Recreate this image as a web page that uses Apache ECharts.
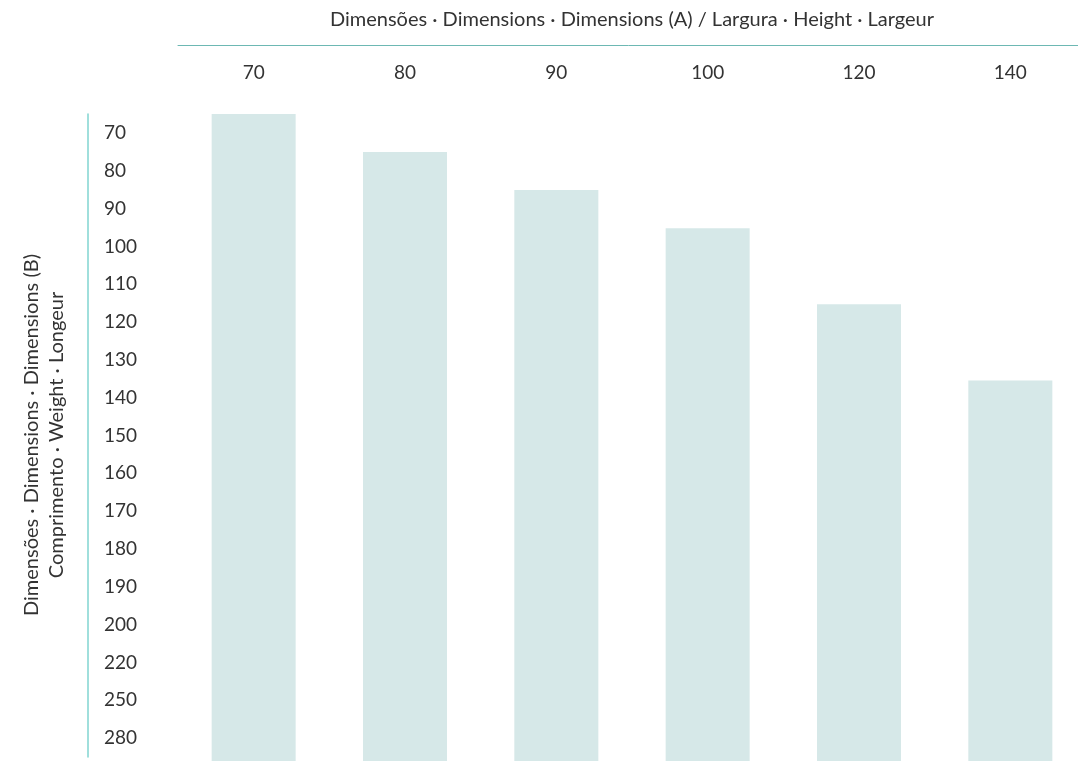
<!DOCTYPE html>
<html>
<head>
<meta charset="utf-8">
<script src="https://cdn.jsdelivr.net/npm/echarts@6/dist/echarts.min.js"></script>
<style>
html,body{margin:0;padding:0;background:#fff;}
#chart{width:1078px;height:761px;}
</style>
</head>
<body>
<div id="chart"></div>
<script>
// Columns: Dimensions (A) - width
const colCategories = ['70', '80', '90', '100', '120', '140'];
// Rows: Dimensions (B) - length
const rowCategories = ['70', '80', '90', '100', '110', '120', '130', '140', '150', '160', '170', '180', '190', '200', '220', '250', '280'];
// Smallest available B for each A (top of each bar)
const minRowForCol = ['70', '80', '90', '100', '120', '140'];

const xTitle = 'Dimensões · Dimensions · Dimensions (A) / Largura · Height · Largeur';
const yTitle1 = 'Dimensões · Dimensions · Dimensions (B)';
const yTitle2 = 'Comprimento · Weight · Longeur';

const barValues = minRowForCol.map(r => rowCategories.length - rowCategories.indexOf(r));

const FONT = 'Lato';
const TXT = '#333333';

const chart = echarts.init(document.getElementById('chart'), null, {renderer: 'canvas'});
chart.setOption({
  animation: false,
  backgroundColor: '#ffffff',
  textStyle: {fontFamily: FONT},
  grid: [
    {left: 178, width: 908, top: 114, bottom: 0, containLabel: false, outerBoundsMode: 'none'},
    {left: 88, width: 1, top: 114, bottom: 4, containLabel: false, outerBoundsMode: 'none'}
  ],
  xAxis: [
    {
      gridIndex: 0, type: 'category', data: colCategories, position: 'top', offset: 69,
      axisLine: {show: true, onZero: false, lineStyle: {color: '#6db8b3', width: 1}},
      axisTick: {show: false},
      axisLabel: {inside: true, margin: 18, color: TXT, fontSize: 19, fontFamily: FONT},
      name: xTitle, nameLocation: 'middle', nameGap: 25,
      nameTextStyle: {color: TXT, fontSize: 20, fontFamily: FONT, verticalAlign: 'middle'},
      splitLine: {show: false}
    },
    {gridIndex: 1, type: 'value', show: false}
  ],
  yAxis: [
    {gridIndex: 0, type: 'value', min: 0, max: rowCategories.length, show: false},
    {
      gridIndex: 1, type: 'category', data: rowCategories, inverse: true, position: 'left',
      axisLine: {show: true, onZero: false, lineStyle: {color: '#80d4d0', width: 1.5}},
      axisTick: {show: false},
      axisLabel: {inside: true, margin: 16, color: TXT, fontSize: 19, fontFamily: FONT, align: 'left'},
      splitLine: {show: false}
    }
  ],
  graphic: [
    {
      type: 'text', x: 32, y: 435, rotation: Math.PI / 2,
      style: {text: yTitle1, fill: TXT, font: '20px ' + FONT, align: 'center', verticalAlign: 'middle'}
    },
    {
      type: 'text', x: 57, y: 435, rotation: Math.PI / 2,
      style: {text: yTitle2, fill: TXT, font: '20px ' + FONT, align: 'center', verticalAlign: 'middle'}
    }
  ],
  series: [
    {
      type: 'bar', xAxisIndex: 0, yAxisIndex: 0, data: barValues,
      barWidth: 84, silent: true,
      itemStyle: {color: '#d6e8e8'}
    }
  ]
});
</script>
</body>
</html>
